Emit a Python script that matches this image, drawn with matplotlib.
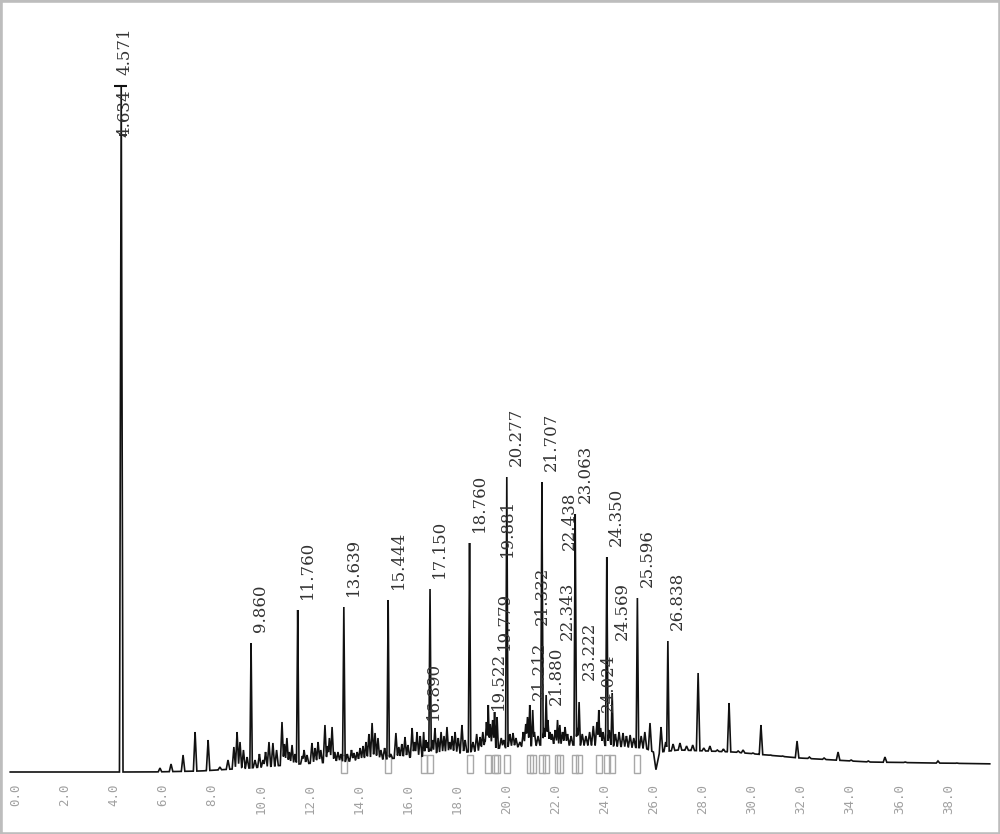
import numpy as np
import matplotlib
matplotlib.use("Agg")
import matplotlib.pyplot as plt
from matplotlib.patches import Rectangle

# labelled peaks: retention time (min) and apex height (detector units above start baseline)
main_times = [4.571, 9.860, 11.760, 13.639, 15.444, 17.150, 18.760,
              20.277, 21.707, 23.063, 24.350, 25.596, 26.838]
main_heights = [685, 129, 162, 165, 172, 183, 229, 295, 290, 258, 215, 174, 131]

minor_times = [16.890, 19.522, 19.779, 19.881, 21.212, 21.332, 21.880,
               22.343, 22.438, 23.222, 24.024, 24.569]
minor_heights = [40, 67, 60, 55, 67, 62, 77, 52, 47, 70, 62, 79]
minor_label_y = [52, 62, 122, 215, 72, 147, 67, 132, 222, 92, 60, 132]

# unlabelled small peaks / noise
noise_times = [6.15, 6.60, 7.09, 7.58, 8.11, 8.59, 8.92, 9.16, 9.29, 9.41,
               9.55, 9.70, 10.02, 10.20, 10.35, 10.45, 10.59, 10.75, 10.90,
               11.12, 11.22, 11.32, 11.42, 11.53, 11.65, 11.95, 12.02, 12.14,
               12.34, 12.47, 12.59, 12.70, 12.87, 12.98, 13.05, 13.16, 13.27,
               13.40, 13.52, 13.78, 13.95, 14.05, 14.18, 14.30, 14.42, 14.54,
               14.66, 14.79, 14.91, 15.03, 15.15, 15.30, 15.55, 15.76, 15.88,
               16.00, 16.13, 16.25, 16.42, 16.52, 16.62, 16.75, 16.98, 17.05,
               17.25, 17.35, 17.48, 17.60, 17.72, 17.84, 17.95, 18.05, 18.17,
               18.30, 18.45, 18.58, 18.90, 19.05, 19.19, 19.30, 19.39, 19.45,
               19.60, 19.70, 20.05, 20.15, 20.40, 20.53, 20.65, 20.81, 20.95,
               21.05, 21.12, 21.40, 21.55, 21.80, 21.95, 22.04, 22.12, 22.25,
               22.55, 22.65, 22.75, 22.90, 23.15, 23.35, 23.50, 23.65, 23.80,
               23.95, 24.10, 24.20, 24.45, 24.70, 24.85, 25.01, 25.15, 25.30,
               25.45, 25.75, 25.90, 26.11, 26.56, 26.75, 27.05, 27.33, 27.60,
               27.85, 28.07, 28.30, 28.55, 28.85, 29.10, 29.33, 29.70, 29.90,
               30.30, 30.63, 31.00, 31.50, 32.10, 32.60, 33.20, 33.77, 34.30,
               35.00, 35.68, 36.50, 37.84, 38.60]
noise_heights = [4, 8, 17, 40, 32, 5, 12, 25, 40, 30,
                 22, 15, 12, 18, 12, 20, 30, 29, 22,
                 50, 28, 34, 20, 27, 18, 16, 22, 17,
                 29, 24, 30, 22, 47, 26, 34, 45, 20,
                 20, 18, 18, 22, 19, 20, 24, 26, 30,
                 38, 49, 39, 34, 22, 24, 18, 39, 25,
                 28, 35, 27, 44, 30, 40, 36, 32, 30,
                 32, 44, 34, 40, 36, 45, 30, 36, 40,
                 34, 47, 32, 30, 38, 35, 40, 32, 50,
                 48, 52, 34, 32, 38, 39, 34, 30, 40,
                 48, 55, 40, 36, 44, 52, 40, 38, 42,
                 40, 45, 38, 36, 44, 38, 36, 40, 46,
                 50, 44, 40, 42, 38, 40, 39, 36, 37,
                 34, 36, 40, 49, 45, 30, 28, 29, 26,
                 27, 99, 24, 26, 22, 23, 69, 21, 22,
                 19, 47, 17, 16, 31, 15, 14, 20, 12,
                 11, 15, 10, 11, 9]

# baseline drift knots
base_t = [-0.5, 5.8, 7.8, 9.8, 11.8, 13.9, 15.9, 18.0, 20.0, 21.6, 24.1,
          25.9, 26.25, 26.35, 26.5, 27.3, 29.5, 32.2, 35.0, 37.6, 40.4]
base_y = [0, 0, 1, 4, 8, 11, 14, 18, 24, 27, 27,
          24, 20, 2, 20, 22, 20, 14, 10, 9, 8]

# integration boxes drawn under these peaks
boxed = [13.639, 15.444, 16.890, 17.150, 18.760, 19.522, 19.779, 19.881,
         20.277, 21.212, 21.332, 21.707, 21.880, 22.343, 22.438, 23.063,
         23.222, 24.024, 24.350, 24.569, 25.596]

xticks = np.arange(0, 40, 2.0)
xtick_labels = [f"{v:.1f}" for v in xticks]

fig = plt.figure(figsize=(10, 8.34), dpi=100)
ax = fig.add_axes([0, 56 / 834, 1, 778 / 834])
ax.set_xlim(-9 / 24.55, 991 / 24.55)
ax.set_ylim(-6, 772)

# build trace: baseline with triangular spikes on it
all_t = np.array(main_times + minor_times + noise_times)
all_h = np.array(main_heights + minor_heights + noise_heights, dtype=float)
half_w = np.array([0.07] + [0.05] * (len(main_times) - 1)
                  + [0.05] * len(minor_times) + [0.07] * len(noise_times))
x = np.union1d(np.linspace(0.05, 39.95, 8000), all_t)
base = np.interp(x, base_t, base_y)
y = base.copy()
for t, h, w in zip(all_t, all_h, half_w):
    b = np.interp(t, base_t, base_y)
    near = np.abs(x - t) <= w
    tri = h - (h - b) * np.abs(x[near] - t) / w
    y[near] = np.maximum(y[near], tri)
ax.plot(x, y, color="#111111", lw=1.2, solid_joinstyle="miter")

# integration boxes
for t in boxed:
    ax.add_patch(Rectangle((t - 0.12, -1), 0.24, 18, fill=False,
                           ec="#a8a8a8", lw=1.0))

# marks on main peak
ax.hlines(main_heights[0] + 1, main_times[0] - 0.3, main_times[0] + 0.22,
          color="#111111", lw=1.5)
ax.hlines(637, main_times[0] - 0.1, main_times[0] + 0.22,
          color="#111111", lw=1.2)

lab_font = dict(family="DejaVu Serif", size=12, color="#333333")
ax.annotate(f"{main_times[0]:.3f}", (main_times[0], main_heights[0]),
            xytext=(3, 9), textcoords="offset points", rotation=90,
            ha="center", va="bottom", **lab_font)
ax.annotate("4.634", (main_times[0], 635), xytext=(3, 0),
            textcoords="offset points", rotation=90,
            ha="center", va="bottom", **lab_font)
for t, h in zip(main_times[1:], main_heights[1:]):
    ax.annotate(f"{t:.3f}", (t, h), xytext=(1, 8), textcoords="offset points",
                rotation=90, ha="left", va="bottom", **lab_font)
for t, ly in zip(minor_times, minor_label_y):
    ax.annotate(f"{t:.3f}", (t, ly), xytext=(1, 0), textcoords="offset points",
                rotation=90, ha="left", va="bottom", **lab_font)

ax.set_xticks(xticks)
ax.set_xticklabels(xtick_labels, rotation=90, ha="left", va="top",
                   family="DejaVu Sans Mono", fontsize=9, color="#a0a0a0")
ax.tick_params(axis="x", length=0, pad=4)
ax.set_yticks([])
for s in ax.spines.values():
    s.set_visible(False)

fig.add_artist(Rectangle((0, 0), 1, 1, transform=fig.transFigure, fill=False,
                         ec="#bdbdbd", lw=3.3))

fig.savefig("out.png", dpi=100)
